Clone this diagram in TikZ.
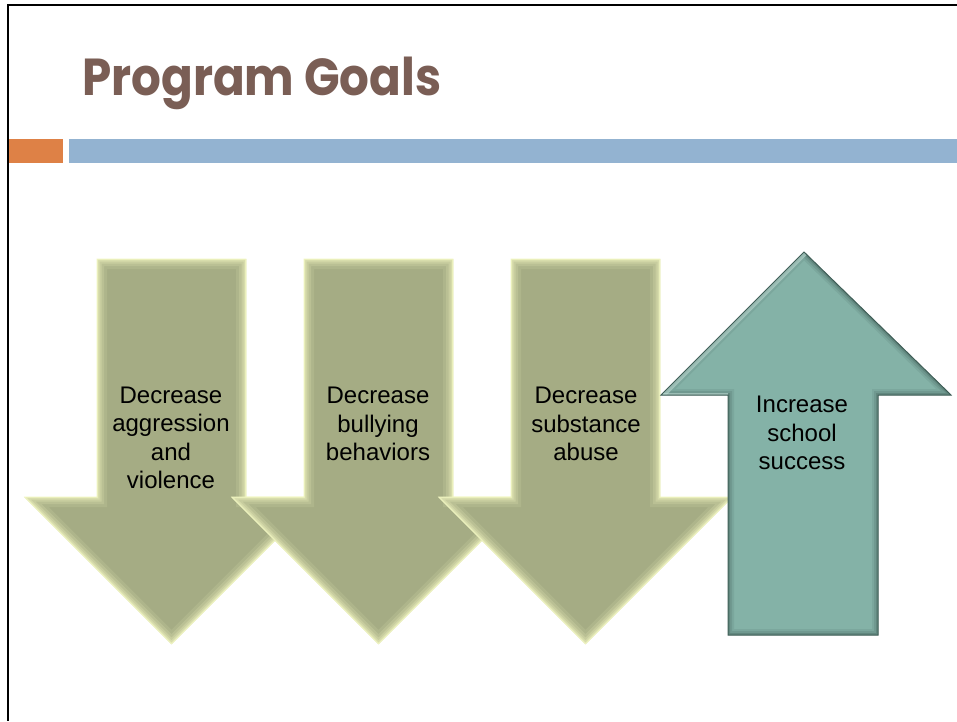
\documentclass[tikz,border=0pt]{standalone}
\usepackage{fontspec}
\setmainfont{Liberation Sans}
\newfontfamily\titlefont{Poppins}
\definecolor{titlebrown}{HTML}{7A5E55}
\definecolor{barorange}{HTML}{DE8146}
\definecolor{barblue}{HTML}{93B3D1}
\definecolor{olivefill}{HTML}{A5AC84}
\definecolor{olivelight}{HTML}{F2F7C2}
\definecolor{tealfill}{HTML}{84B2A7}
\definecolor{tealdark}{HTML}{3F5E57}
\definecolor{teallight}{HTML}{C4E2DA}

% outline of a downward arrow centred on x = #1
\newcommand\downarrowpath[1]{({#1-74.5},259) -- ({#1+74.5},259) -- ({#1+74.5},497) -- ({#1+147},497) -- (#1,644) -- ({#1-147},497) -- ({#1-74.5},497) -- cycle}
% outline of the upward arrow
\newcommand\uparrowpath{(728,635) -- (728,395) -- (661,395) -- (804,252) -- (951,395) -- (878,395) -- (878,635) -- cycle}

\tikzset{
  goaltext/.style={align=center, inner sep=0pt, text=black,
    font=\fontsize{24}{28.5}\selectfont},
  frameline/.style={line width=2.2pt, black},
}

\begin{document}
\begin{tikzpicture}[x=1pt, y=-1pt, line join=miter]
\useasboundingbox (0,0) rectangle (957,721);
\fill[white] (0,0) rectangle (957,721);

% slide frame
\draw[frameline] (957,5) -- (8,5) -- (8,721);

% title and rule bars
\node[anchor=base west, inner sep=0pt, text=titlebrown,
  font=\titlefont\bfseries\fontsize{52}{60}\selectfont] (title) at (82,95)
  {\scalebox{0.9}[1]{Program Goals}};
\fill[barorange] (9,139) rectangle (63,163);
\fill[barblue] (69,139) rectangle (957,163);

% three downward arrows with light bevelled edges
\foreach \cx in {171.5,378.5,585.5} {
  \fill[olivefill] \downarrowpath{\cx};
  \begin{scope}
    \clip \downarrowpath{\cx};
    \foreach \w/\o in {20/0.12,14/0.18,9/0.25,5/0.35,2/0.6}
      \draw[line width=\w pt, olivelight, opacity=\o] \downarrowpath{\cx};
  \end{scope}
  \draw[olivelight, line width=0.6pt] \downarrowpath{\cx};
}

% upward arrow with darker lower/right edges
\fill[tealfill] \uparrowpath;
\begin{scope}
  \clip \uparrowpath;
  \foreach \w/\o in {12/0.12,8/0.18,4/0.3}
    \draw[line width=\w pt, tealdark, opacity=\o] \uparrowpath;
  \draw[line width=8pt, teallight, opacity=0.55] (661,395) -- (804,252);
  \draw[line width=4pt, teallight, opacity=0.6] (661,395) -- (728,395);
\end{scope}
\draw[tealdark, line width=1pt] \uparrowpath;

% goal labels
\node[goaltext] (g1) at (171,438) {Decrease\\aggression\\and\\violence};
\node[goaltext] (g2) at (378,424) {Decrease\\bullying\\behaviors};
\node[goaltext] (g3) at (586,424) {Decrease\\substance\\abuse};
\node[goaltext] (g4) at (802,433) {Increase\\school\\success};
\end{tikzpicture}
\end{document}
